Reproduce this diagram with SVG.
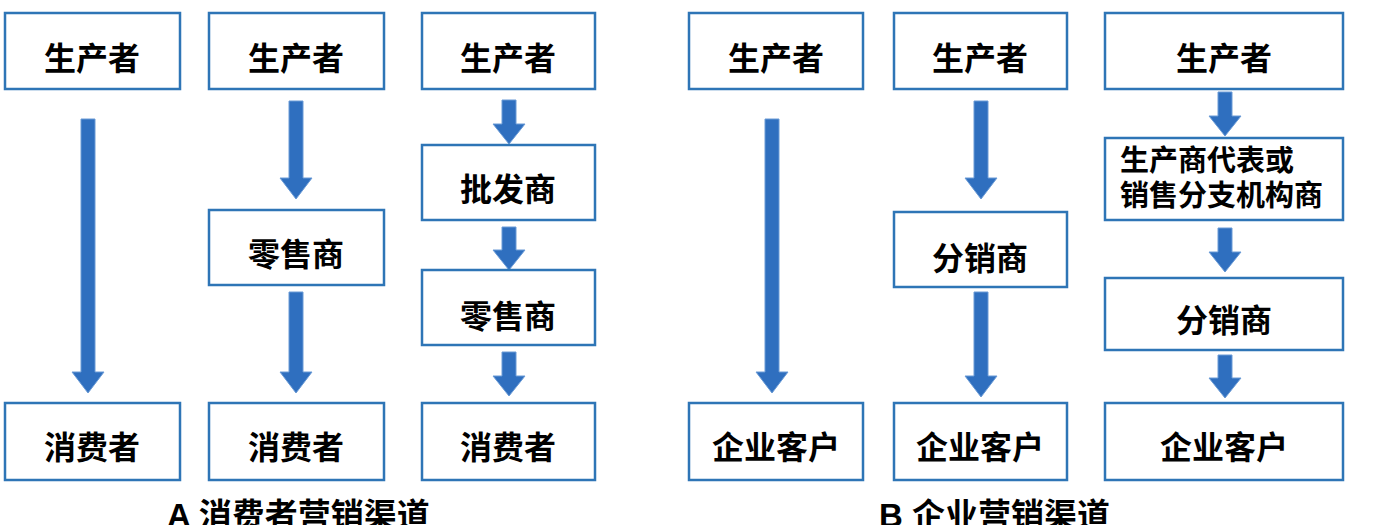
<svg xmlns="http://www.w3.org/2000/svg" width="1400" height="525" viewBox="0 0 1400 525">
<style>
.box{fill:#fff;stroke:#2e75b6;stroke-width:2.5}
.t{font-family:"Liberation Sans","Noto Sans CJK SC",sans-serif;font-weight:bold;font-size:32px;fill:#000;text-anchor:middle}
.t2{font-family:"Liberation Sans","Noto Sans CJK SC",sans-serif;font-weight:bold;font-size:29px;fill:#000}
.cap{font-family:"Liberation Sans","Noto Sans CJK SC",sans-serif;font-weight:bold;font-size:33px;fill:#000}
.arr{fill:#2f6fbf;stroke:#6b9bd6;stroke-width:1}
</style>
<rect width="1400" height="525" fill="#fff"/>
<g id="connectors">
<path class="arr" d="M81,119 H95 V372 H104 L88,393 L72,372 H81 Z"/>
<path class="arr" d="M289,101 H303 V178 H312 L296,199 L280,178 H289 Z"/>
<path class="arr" d="M289,292 H303 V372 H312 L296,393 L280,372 H289 Z"/>
<path class="arr" d="M502,100 H516 V124 H525 L509,144 L493,124 H502 Z"/>
<path class="arr" d="M502,227 H516 V250 H525 L509,270 L493,250 H502 Z"/>
<path class="arr" d="M502,352 H516 V376 H525 L509,396 L493,376 H502 Z"/>
<path class="arr" d="M765,119 H779 V372 H788 L772,393 L756,372 H765 Z"/>
<path class="arr" d="M974,101 H988 V178 H997 L981,199 L965,178 H974 Z"/>
<path class="arr" d="M974,292 H988 V376 H997 L981,397 L965,376 H974 Z"/>
<path class="arr" d="M1218,92 H1232 V116 H1241 L1225,136 L1209,116 H1218 Z"/>
<path class="arr" d="M1218,228 H1232 V252 H1241 L1225,272 L1209,252 H1218 Z"/>
<path class="arr" d="M1218,355 H1232 V378 H1241 L1225,398 L1209,378 H1218 Z"/>
</g>
<g id="a1-producer"><rect class="box" x="5" y="13" width="175" height="76"/><text class="t" x="92" y="70">生产者</text></g>
<g id="a1-consumer"><rect class="box" x="5" y="403" width="175" height="77"/><text class="t" x="92" y="459">消费者</text></g>
<g id="a2-producer"><rect class="box" x="209" y="13" width="175" height="76"/><text class="t" x="296" y="70">生产者</text></g>
<g id="a2-retailer"><rect class="box" x="209" y="210" width="175" height="75"/><text class="t" x="296" y="266">零售商</text></g>
<g id="a2-consumer"><rect class="box" x="209" y="403" width="175" height="77"/><text class="t" x="296" y="459">消费者</text></g>
<g id="a3-producer"><rect class="box" x="422" y="13" width="173" height="76"/><text class="t" x="508" y="70">生产者</text></g>
<g id="a3-wholesaler"><rect class="box" x="422" y="145" width="173" height="75"/><text class="t" x="508" y="201">批发商</text></g>
<g id="a3-retailer"><rect class="box" x="422" y="270" width="173" height="75"/><text class="t" x="508" y="328">零售商</text></g>
<g id="a3-consumer"><rect class="box" x="422" y="403" width="173" height="77"/><text class="t" x="508" y="459">消费者</text></g>
<g id="b1-producer"><rect class="box" x="689" y="13" width="174" height="76"/><text class="t" x="776" y="70">生产者</text></g>
<g id="b1-client"><rect class="box" x="689" y="403" width="174" height="77"/><text class="t" x="776" y="459">企业客户</text></g>
<g id="b2-producer"><rect class="box" x="894" y="13" width="173" height="76"/><text class="t" x="980" y="70">生产者</text></g>
<g id="b2-distributor"><rect class="box" x="894" y="212" width="173" height="75"/><text class="t" x="980" y="270">分销商</text></g>
<g id="b2-client"><rect class="box" x="894" y="403" width="173" height="77"/><text class="t" x="980" y="459">企业客户</text></g>
<g id="b3-producer"><rect class="box" x="1105" y="13" width="238" height="76"/><text class="t" x="1224" y="70">生产者</text></g>
<g id="b3-agent"><rect class="box" x="1105" y="138" width="238" height="82"/><text class="t2" x="1120" y="171">生产商代表或</text><text class="t2" x="1120" y="206">销售分支机构商</text></g>
<g id="b3-distributor"><rect class="box" x="1105" y="278" width="238" height="72"/><text class="t" x="1224" y="332">分销商</text></g>
<g id="b3-client"><rect class="box" x="1105" y="403" width="238" height="77"/><text class="t" x="1224" y="459">企业客户</text></g>
<text class="cap" x="167" y="527">A 消费者营销渠道</text>
<text class="cap" x="879" y="527">B 企业营销渠道</text>
</svg>
